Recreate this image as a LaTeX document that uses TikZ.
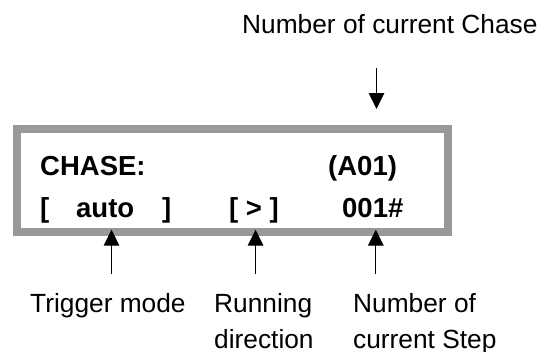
\documentclass[tikz,border=0pt]{standalone}
\usepackage{fontspec}
\setmainfont{Liberation Sans}
\usetikzlibrary{arrows.meta}
\definecolor{framegray}{HTML}{999999}
\begin{document}
\begin{tikzpicture}[x=1pt,y=-1pt,
  lcd/.style={draw=framegray,line width=8pt,minimum width=431.5pt,minimum height=103pt,inner sep=0pt},
  lcdtext/.style={anchor=base west,inner sep=0pt,font=\fontsize{27.5}{30}\selectfont\bfseries},
  lbl/.style={anchor=base west,inner sep=0pt,align=left,font=\fontsize{26.3}{36}\selectfont},
  pointer/.style={line width=1.3pt,-{Triangle[width=15.6pt,length=16pt]}}]
\useasboundingbox (0,0) rectangle (543,351);
\node[lcd] (box) at (232.25,180) {};
\node[lcdtext] (t1) at (40,175) {CHASE:};
\node[lcdtext] (t2) at (328,175) {(A01)};
\node[lcdtext] (t3) at (40,217.5) {[};
\node[lcdtext] (t4) at (76,217.5) {auto};
\node[lcdtext] (t5) at (162,217.5) {]};
\node[lcdtext] (t6) at (229,217.5) {[ > ]};
\node[lcdtext] (t7) at (342,217.5) {001\#};
\node[lbl] (top) at (242,33.3) {Number of current Chase};
\node[lbl] (l1) at (30,312) {Trigger mode};
\node[lbl] (l2) at (214,348) {Running\\direction};
\node[lbl] (l3) at (353,348) {Number of\\current Step};
\coordinate (d0) at (376.5,68.3);
\coordinate (d1) at (376.5,109);
\coordinate (a0) at (111.5,273.7);
\coordinate (a1) at (111.5,229.7);
\coordinate (b0) at (255.6,273.7);
\coordinate (b1) at (255.6,229.7);
\coordinate (c0) at (375.8,273.7);
\coordinate (c1) at (375.8,229.7);
\draw[pointer] (d0) -- (d1);
\draw[pointer] (a0) -- (a1);
\draw[pointer] (b0) -- (b1);
\draw[pointer] (c0) -- (c1);
\end{tikzpicture}
\end{document}
